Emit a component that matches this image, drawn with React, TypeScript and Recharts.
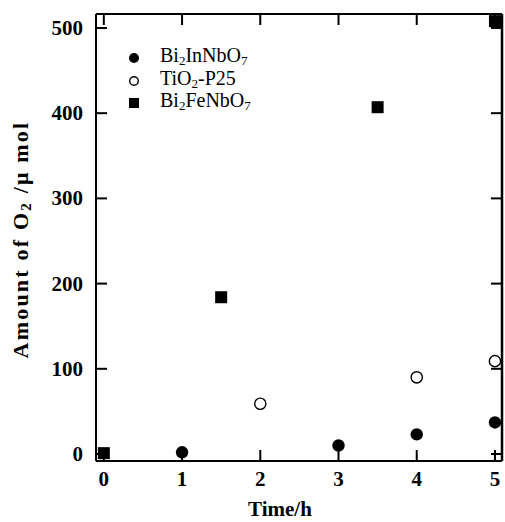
import { ScatterChart, Scatter, XAxis, YAxis, Legend } from "recharts";

const timeTicks = [0, 1, 2, 3, 4, 5];
const amountTicks = [0, 100, 200, 300, 400, 500];

// Bi2InNbO7 (filled circles)
const inTimes = [1, 3, 4, 5];
const inAmounts = [2, 10, 23, 37];

// TiO2-P25 (open circles)
const tioTimes = [2, 4, 5];
const tioAmounts = [59, 90, 109];

// Bi2FeNbO7 (filled squares)
const feTimes = [0, 1.5, 3.5, 5];
const feAmounts = [1, 184, 407, 508];

const toPoints = (xs: number[], ys: number[]) => xs.map((t, i) => ({ t, amount: ys[i] }));

const inData = toPoints(inTimes, inAmounts);
const tioData = toPoints(tioTimes, tioAmounts);
const feData = toPoints(feTimes, feAmounts);

const FONT = '"Liberation Serif", "Times New Roman", serif';
const TICK = 11;

const Sub = ({ children }: { children: string }) => (
    <span style={{ fontSize: 13, verticalAlign: -3 }}>{children}</span>
);

const Marker = ({ kind, size }: { kind: string; size: number }) => {
    const r = size / 2;
    return (
        <svg width={20} height={22}>
            {kind === "filled" && <circle cx={10} cy={11} r={r} fill="#000" />}
            {kind === "open" && <circle cx={10} cy={11} r={r - 0.7} fill="#fff" stroke="#000" strokeWidth={1.4} />}
            {kind === "square" && <rect x={10 - r} y={11 - r} width={size} height={size} fill="#000" />}
        </svg>
    );
};

const legendRows = [
    { kind: "filled", label: <>Bi<Sub>2</Sub>InNbO<Sub>7</Sub></> },
    { kind: "open", label: <>TiO<Sub>2</Sub>-P25</> },
    { kind: "square", label: <>Bi<Sub>2</Sub>FeNbO<Sub>7</Sub></> },
];

const renderLegend = () => (
    <div style={{ fontFamily: FONT, fontSize: 20, color: "#000" }}>
        {legendRows.map((row, i) => (
            <div key={i} style={{ display: "flex", alignItems: "center", height: 22.5 }}>
                <Marker kind={row.kind} size={10} />
                <span style={{ marginLeft: 16, lineHeight: "22px" }}>{row.label}</span>
            </div>
        ))}
    </div>
);

const bottomTick = (p: any) => (
    <g>
        <line x1={p.x} y1={p.y} x2={p.x} y2={p.y - TICK} stroke="#000" strokeWidth={2} />
        <text x={p.x} y={p.y + 25} textAnchor="middle" fontFamily={FONT} fontWeight="bold" fontSize={21} fill="#000">
            {p.payload.value}
        </text>
    </g>
);

const leftTick = (p: any) => (
    <g>
        <line x1={p.x} y1={p.y} x2={p.x + TICK} y2={p.y} stroke="#000" strokeWidth={2} />
        <text x={p.x - 13} y={p.y + 7} textAnchor="end" fontFamily={FONT} fontWeight="bold" fontSize={21} fill="#000">
            {p.payload.value}
        </text>
    </g>
);

const topTick = (p: any) => (
    <line x1={p.x} y1={p.y} x2={p.x} y2={p.y + TICK} stroke="#000" strokeWidth={2} />
);

const rightTick = (p: any) => (
    <line x1={p.x} y1={p.y} x2={p.x - TICK} y2={p.y} stroke="#000" strokeWidth={2} />
);

const dot = (p: any) => <circle cx={p.cx} cy={p.cy} r={6.2} fill="#000" />;
const ring = (p: any) => <circle cx={p.cx} cy={p.cy} r={5.6} fill="#fff" stroke="#000" strokeWidth={1.4} />;
const square = (p: any) => <rect x={p.cx - 6} y={p.cy - 6} width={12} height={12} fill="#000" />;

export default function App() {
    const xDomain: [number, number] = [-0.1, 5.09];
    const yDomain: [number, number] = [-8.2, 516.4];
    return (
        <div style={{ position: "absolute", left: 0, top: 0, width: 505, height: 522, background: "#fff" }}>
            <ScatterChart width={505} height={522} margin={{ top: 13, right: 2, bottom: 0, left: 0 }}>
                <XAxis
                    xAxisId="b"
                    dataKey="t"
                    type="number"
                    domain={xDomain}
                    ticks={timeTicks}
                    allowDataOverflow
                    height={61}
                    tickSize={0}
                    tickMargin={0}
                    tickLine={false}
                    tick={bottomTick}
                    stroke="#000"
                    strokeWidth={2}
                    axisLine={{ stroke: "#000", strokeWidth: 2 }}
                    label={{
                        content: ({ viewBox }: any) => (
                            <text
                                x={viewBox.x + viewBox.width / 2 - 19}
                                y={viewBox.y + 55}
                                textAnchor="middle"
                                fontFamily={FONT}
                                fontWeight="bold"
                                fontSize={21}
                                fill="#000"
                            >
                                Time/h
                            </text>
                        ),
                    }}
                />
                <XAxis
                    xAxisId="t"
                    orientation="top"
                    dataKey="t"
                    type="number"
                    domain={xDomain}
                    ticks={timeTicks}
                    allowDataOverflow
                    height={1}
                    tickSize={0}
                    tickMargin={0}
                    tickLine={false}
                    tick={topTick}
                    stroke="#000"
                    strokeWidth={2}
                    axisLine={{ stroke: "#000", strokeWidth: 2 }}
                />
                <YAxis
                    yAxisId="l"
                    dataKey="amount"
                    type="number"
                    domain={yDomain}
                    ticks={amountTicks}
                    allowDataOverflow
                    width={96}
                    tickSize={0}
                    tickMargin={0}
                    tickLine={false}
                    tick={leftTick}
                    stroke="#000"
                    strokeWidth={2}
                    axisLine={{ stroke: "#000", strokeWidth: 2 }}
                    label={{
                        content: ({ viewBox }: any) => {
                            const cx = viewBox.x + 28;
                            const cy = viewBox.y + viewBox.height / 2 + 2;
                            return (
                                <text
                                    transform={`translate(${cx},${cy}) rotate(-90)`}
                                    textAnchor="middle"
                                    fontFamily={FONT}
                                    fontWeight="bold"
                                    fontSize={22}
                                    letterSpacing={2.2}
                                    fill="#000"
                                >
                                    Amount of O
                                    <tspan fontSize={15} dy={3}>2</tspan>
                                    <tspan dy={-3}> /μ mol</tspan>
                                </text>
                            );
                        },
                    }}
                />
                <YAxis
                    yAxisId="r"
                    orientation="right"
                    dataKey="amount"
                    type="number"
                    domain={yDomain}
                    ticks={amountTicks}
                    allowDataOverflow
                    width={1}
                    tickSize={0}
                    tickMargin={0}
                    tickLine={false}
                    tick={rightTick}
                    stroke="#000"
                    strokeWidth={2.5}
                    axisLine={{ stroke: "#000", strokeWidth: 2.5 }}
                />
                <Legend
                    layout="vertical"
                    verticalAlign="middle"
                    align="center"
                    content={renderLegend}
                    wrapperStyle={{ position: "absolute", left: 124, top: 47, width: 200 }}
                />
                <Scatter name="Bi2InNbO7" data={inData} xAxisId="b" yAxisId="l" shape={dot} isAnimationActive={false} />
                <Scatter name="TiO2-P25" data={tioData} xAxisId="b" yAxisId="l" shape={ring} isAnimationActive={false} />
                <Scatter name="Bi2FeNbO7" data={feData} xAxisId="b" yAxisId="l" shape={square} isAnimationActive={false} />
            </ScatterChart>
        </div>
    );
}
